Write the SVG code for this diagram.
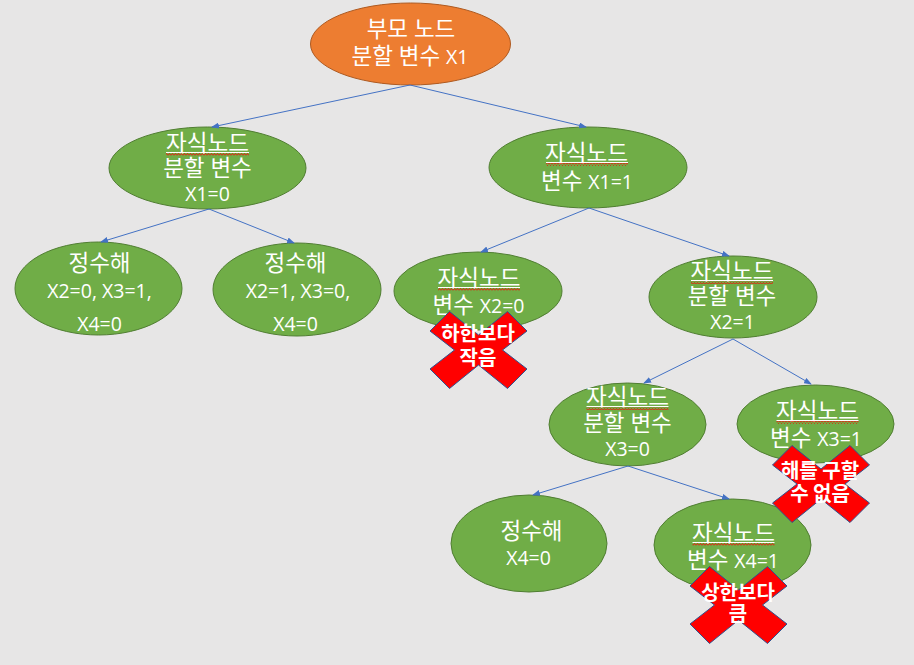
<svg xmlns="http://www.w3.org/2000/svg" xmlns:xlink="http://www.w3.org/1999/xlink" width="914" height="665" viewBox="0 0 914 665">
<defs>
<style>
.bg{fill:#E7E6E6}
.orange{fill:#ED7D31;stroke:#AE5A21;stroke-width:1}
.green{fill:#70AD47;stroke:#507E32;stroke-width:1}
.t{font-family:"Open Sans","Noto Sans CJK KR",sans-serif;font-size:22.5px;fill:#FFFFFF;text-anchor:middle}
.l{font-size:19.5px}
.xt{font-family:"Noto Sans CJK KR",sans-serif;font-size:20px;font-weight:bold;fill:#FFFFFF;text-anchor:middle}
.conn line{stroke:#4472C4;stroke-width:1;fill:none;marker-end:url(#arrow)}
.ul{stroke:#FFFFFF;stroke-width:1}
.wave{fill:url(#squiggle)}
.cross{fill:#FF0000;stroke:#2F528F;stroke-width:1}
</style>
<marker id="arrow" markerWidth="8" markerHeight="6" refX="7" refY="3" orient="auto" markerUnits="userSpaceOnUse">
<path d="M0,0 L8,3 L0,6 Z" fill="#4472C4"/>
</marker>
<pattern id="squiggle" patternUnits="userSpaceOnUse" width="3" height="3">
<path d="M0,2.5 L1.5,0.5 L3,2.5" fill="none" stroke="#FF0000" stroke-width="0.8"/>
</pattern>
<polygon id="xmark" class="cross" points="-48.5,-19 -29,-38.5 0,-15 29,-38.5 48.5,-19 24,0 48.5,19 29,38.5 0,15 -29,38.5 -48.5,19 -24,0"/>
</defs>
<rect class="bg" x="0" y="0" width="914" height="665"/>

<g id="node-root">
<ellipse class="orange" cx="410.5" cy="44" rx="100" ry="41"/>
<text class="t" x="411" y="37">부모 노드</text>
<text class="t" x="410" y="64">분할 변수 <tspan class="l">X1</tspan></text>
</g>

<g id="node-x1-0">
<ellipse class="green" cx="207.5" cy="168" rx="98.5" ry="41"/>
<text class="t" x="207.5" y="151">자식노드</text>
<line class="ul" x1="166" y1="152.5" x2="249" y2="152.5"/>
<rect class="wave" x="166" y="153" width="83" height="3"/>
<text class="t" x="207.5" y="176">분할 변수</text>
<text class="t l" x="207.5" y="201">X1=0</text>
</g>

<g id="node-x1-1">
<ellipse class="green" cx="588" cy="167.5" rx="99" ry="40.5"/>
<text class="t" x="586.5" y="161">자식노드</text>
<line class="ul" x1="546" y1="162.5" x2="628" y2="162.5"/>
<rect class="wave" x="546" y="163" width="82" height="3"/>
<text class="t" x="587" y="189">변수 <tspan class="l">X1=1</tspan></text>
</g>

<g id="node-int1">
<ellipse class="green" cx="98.5" cy="288.5" rx="83.5" ry="46.5"/>
<text class="t" x="99.5" y="271">정수해</text>
<text class="t l" x="99.5" y="298">X2=0, X3=1,</text>
<text class="t l" x="99.5" y="331">X4=0</text>
</g>

<g id="node-int2">
<ellipse class="green" cx="297" cy="289.5" rx="84" ry="46.5"/>
<text class="t" x="295.5" y="271">정수해</text>
<text class="t l" x="298" y="298">X2=1, X3=0,</text>
<text class="t l" x="295.5" y="331">X4=0</text>
</g>

<g id="node-x2-0">
<ellipse class="green" cx="478" cy="291" rx="84" ry="39"/>
<text class="t" x="479" y="286">자식노드</text>
<line class="ul" x1="438" y1="287.5" x2="520" y2="287.5"/>
<rect class="wave" x="438" y="288" width="82" height="3"/>
<text class="t" x="478.5" y="313">변수 <tspan class="l">X2=0</tspan></text>
</g>

<g id="node-x2-1">
<ellipse class="green" cx="733" cy="297" rx="84" ry="41"/>
<text class="t" x="732" y="279">자식노드</text>
<line class="ul" x1="691" y1="280.5" x2="773" y2="280.5"/>
<rect class="wave" x="691" y="281" width="82" height="3"/>
<text class="t" x="732" y="304">분할 변수</text>
<text class="t l" x="732.5" y="329">X2=1</text>
</g>

<g id="node-x3-0">
<ellipse class="green" cx="627.5" cy="424.5" rx="78.5" ry="41.5"/>
<text class="t" x="627.5" y="405">자식노드</text>
<line class="ul" x1="586.5" y1="406.5" x2="668.5" y2="406.5"/>
<rect class="wave" x="586.5" y="407" width="82" height="3"/>
<text class="t" x="627.5" y="431">분할 변수</text>
<text class="t l" x="627.5" y="456">X3=0</text>
</g>

<g id="node-x3-1">
<ellipse class="green" cx="815.5" cy="424" rx="78.5" ry="39"/>
<text class="t" x="817.5" y="419">자식노드</text>
<line class="ul" x1="776.5" y1="420.5" x2="858.5" y2="420.5"/>
<rect class="wave" x="776.5" y="421" width="82" height="3"/>
<text class="t" x="816" y="446">변수 <tspan class="l">X3=1</tspan></text>
</g>

<g id="node-int3">
<ellipse class="green" cx="529" cy="543.5" rx="78" ry="48.5"/>
<text class="t" x="531.5" y="539">정수해</text>
<text class="t l" x="528.5" y="565">X4=0</text>
</g>

<g id="node-x4-1">
<ellipse class="green" cx="732.5" cy="545" rx="78.5" ry="46"/>
<text class="t" x="733.5" y="541">자식노드</text>
<line class="ul" x1="692.5" y1="542.5" x2="774.5" y2="542.5"/>
<rect class="wave" x="692.5" y="543" width="82" height="3"/>
<text class="t" x="733" y="568">변수 <tspan class="l">X4=1</tspan></text>
</g>

<g id="connectors" class="conn">
<line x1="410" y1="85" x2="212" y2="127"/>
<line x1="410" y1="85" x2="586" y2="127"/>
<line x1="209" y1="209" x2="101" y2="242"/>
<line x1="209" y1="209" x2="294" y2="243"/>
<line x1="589" y1="208" x2="481" y2="252"/>
<line x1="589" y1="208" x2="729" y2="256"/>
<line x1="733" y1="339" x2="644" y2="383"/>
<line x1="733" y1="339" x2="811" y2="384"/>
<line x1="628" y1="466" x2="533" y2="495"/>
<line x1="628" y1="466" x2="729" y2="499"/>
</g>

<g id="mark-lower-bound">
<use xlink:href="#xmark" x="478.5" y="350"/>
<text class="xt" x="478" y="341">하한보다</text>
<text class="xt" x="478" y="365">작음</text>
</g>

<g id="mark-infeasible">
<use xlink:href="#xmark" x="821" y="484"/>
<text class="xt" x="820" y="478">해를 구할</text>
<text class="xt" x="820" y="501">수 없음</text>
</g>

<g id="mark-upper-bound">
<use xlink:href="#xmark" x="738.5" y="605"/>
<text class="xt" x="738" y="600">상한보다</text>
<text class="xt" x="738" y="621">큼</text>
</g>
</svg>
